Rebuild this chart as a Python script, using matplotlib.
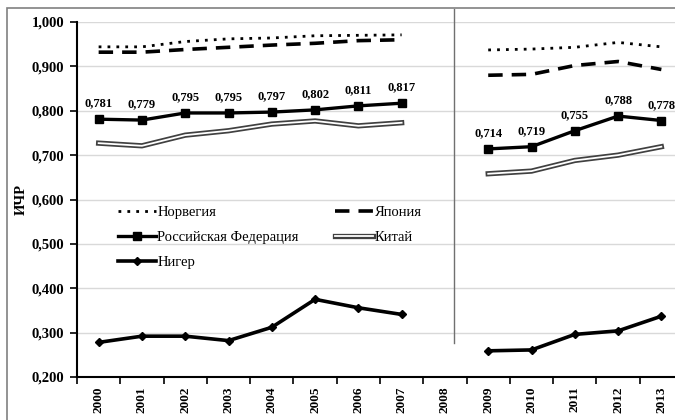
import matplotlib
matplotlib.use("Agg")
import matplotlib.pyplot as plt
import matplotlib.patheffects as pe
from matplotlib.patches import Rectangle
import numpy as np

plt.rcParams["font.family"] = ["Liberation Serif", "DejaVu Serif"]

years = ["2000", "2001", "2002", "2003", "2004", "2005", "2006", "2007",
         "2008", "2009", "2010", "2011", "2012", "2013"]

# None = no data for that year (gap at 2008)
norway = [0.944, 0.944, 0.956, 0.962, 0.964, 0.969, 0.970, 0.971,
          None, 0.937, 0.939, 0.943, 0.954, 0.944]
japan = [0.932, 0.932, 0.938, 0.943, 0.948, 0.952, 0.958, 0.960,
         None, 0.880, 0.882, 0.902, 0.911, 0.893]
russia = [0.781, 0.779, 0.795, 0.795, 0.797, 0.802, 0.811, 0.817,
          None, 0.714, 0.719, 0.755, 0.788, 0.778]
china = [0.727, 0.721, 0.745, 0.755, 0.770, 0.777, 0.766, 0.773,
         None, 0.658, 0.664, 0.688, 0.700, 0.719]
niger = [0.278, 0.292, 0.292, 0.282, 0.312, 0.375, 0.356, 0.341,
         None, 0.259, 0.261, 0.296, 0.304, 0.337]

yticks = [0.2, 0.3, 0.4, 0.5, 0.6, 0.7, 0.8, 0.9, 1.0]


def arr(vals):
    return np.array([np.nan if v is None else v for v in vals])


x = np.arange(len(years))

fig = plt.figure(figsize=(6.75, 4.2), dpi=100)
ax = fig.add_axes([77 / 675, 43 / 420, 606 / 675, 355 / 420])

# outer frame of the picture
fig.patches.append(Rectangle((7 / 675, -0.05), 1.0, 1.05 - 8 / 420,
                             transform=fig.transFigure, fill=False,
                             edgecolor="#808080", lw=1.2))

ax.plot(x, arr(norway), color="black", lw=2, linestyle=(0, (1, 2.2)),
        label="Норвегия")
ax.plot(x, arr(japan), color="black", lw=2.6, linestyle=(0, (4, 2.5)),
        label="Япония")
ax.plot(x, arr(russia), color="black", lw=2.4, marker="s", markersize=5.5,
        label="Российская Федерация")
ax.plot(x, arr(china), color="white", lw=1.3,
        path_effects=[pe.Stroke(linewidth=3.8, foreground="#404040"), pe.Normal()],
        label="Китай")
ax.plot(x, arr(niger), color="black", lw=2.6, marker="D", markersize=4,
        label="Нигер")

for xi, v in zip(x, russia):
    if v is not None:
        ax.annotate(f"{v:.3f}".replace(".", ","), (xi, v), xytext=(0, 7),
                    textcoords="offset points", ha="center", va="bottom",
                    fontsize=9, fontweight="bold")

# divider between the two periods
ax.axvline(8.2, ymin=0.096, ymax=1.037, color="#707070", lw=1.0, clip_on=False)

ax.set_xlim(-0.5, 13.5)
ax.set_ylim(0.2, 1.0)
ax.set_yticks(yticks)
ax.set_yticklabels([f"{t:.3f}".replace(".", ",") for t in yticks],
                   fontsize=10.5, fontweight="bold")
ax.set_xticks(x)
ax.set_xticklabels(years, rotation=90, fontsize=9.5, fontweight="bold")
ax.set_xticks(np.arange(-0.5, 14, 1), minor=True)
ax.tick_params(axis="x", which="major", length=0, pad=7)
ax.tick_params(axis="x", which="minor", length=5, width=1.2, direction="out")
ax.tick_params(axis="y", length=5, width=1.2, direction="out", pad=4)
ax.grid(axis="y", color="#d9d9d9", lw=1)
ax.set_axisbelow(True)
for s in ["top", "right"]:
    ax.spines[s].set_visible(False)
for s in ["left", "bottom"]:
    ax.spines[s].set_linewidth(1.5)

ax.set_ylabel("ИЧР", fontsize=10.5, fontweight="bold", labelpad=3)

h, l = ax.get_legend_handles_labels()
order = [0, 2, 4, 1, 3]
ax.legend([h[i] for i in order], [l[i] for i in order], ncol=2, frameon=False,
          loc="upper left", bbox_to_anchor=(112 / 675, 1 - 200 / 420),
          bbox_transform=fig.transFigure, fontsize=10.5, handlelength=2.6,
          handletextpad=0.1, columnspacing=2.5, labelspacing=0.8,
          borderaxespad=0)

fig.savefig("out.png", dpi=100)
